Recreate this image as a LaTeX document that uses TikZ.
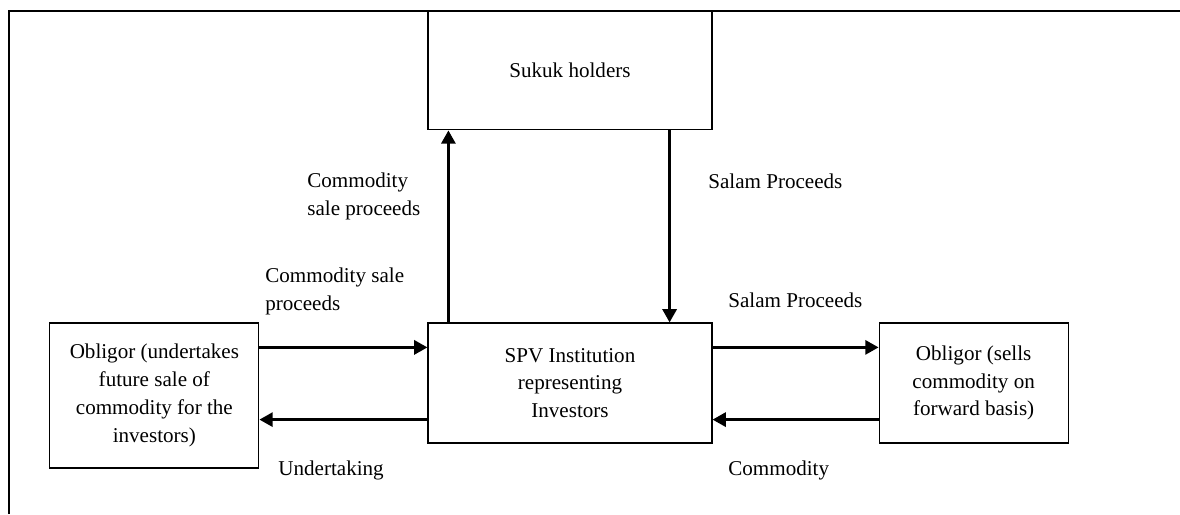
\documentclass[tikz,border=0pt]{standalone}
\usepackage{fontspec}
\setmainfont{Liberation Serif}
\usetikzlibrary{positioning, arrows.meta}

\begin{document}
\begin{tikzpicture}[
    x=0.02cm, y=-0.02cm,
    font=\fontsize{12}{15.8}\selectfont,
    box/.style={draw, rectangle, line width=0.7pt, inner sep=0pt, align=center},
    note/.style={anchor=base west, inner sep=0pt, align=left},
    arrow/.style={-{Triangle[length=7.5pt, width=8pt]}, line width=1.5pt}
]
\useasboundingbox (0,0) rectangle (1180,514);
\draw[line width=0.7pt] (9,514) -- (9,11) -- (1180,11);

\node[box, minimum width=5.68cm, minimum height=2.4cm] (2) at (570,383) {SPV Institution\\representing\\Investors};
\node[box, minimum width=5.68cm, minimum height=2.38cm, above=3.84cm of 2] (1) {Sukuk holders};
\node[box, minimum width=4.18cm, minimum height=2.9cm, left=3.36cm of 2.north west, anchor=north east] (3) {Obligor (undertakes\\future sale of\\commodity for the\\investors)};
\node[box, minimum width=3.78cm, minimum height=2.4cm, right=3.32cm of 2] (4) {Obligor (sells\\commodity on\\forward basis)};

% notes, anchored on the baseline of their last line
\node[note] (a) at (307,215) {Commodity\\sale proceeds};
\node[note] (b) at (708,188) {Salam Proceeds};
\node[note] (c) at (265,310) {Commodity sale\\proceeds};
\node[note] (d) at (278,475) {Undertaking};
\node[note] (e) at (728,307) {Salam Proceeds};
\node[note] (f) at (728,475) {Commodity};

\draw[arrow] ([xshift=0.42cm]2.north west) -- ([xshift=0.42cm]1.south west);
\draw[arrow] ([xshift=-0.86cm]1.south east) -- ([xshift=-0.86cm]2.north east);
\draw[arrow] ([yshift=-0.5cm]2.north west -| 3.east) -- ([yshift=-0.5cm]2.north west);
\draw[arrow] ([yshift=0.48cm]2.south west) -- ([yshift=0.48cm]2.south west -| 3.east);
\draw[arrow] ([yshift=-0.5cm]2.north east) -- ([yshift=-0.5cm]2.north east -| 4.west);
\draw[arrow] ([yshift=0.48cm]2.south east -| 4.west) -- ([yshift=0.48cm]2.south east);

\end{tikzpicture}
\end{document}
